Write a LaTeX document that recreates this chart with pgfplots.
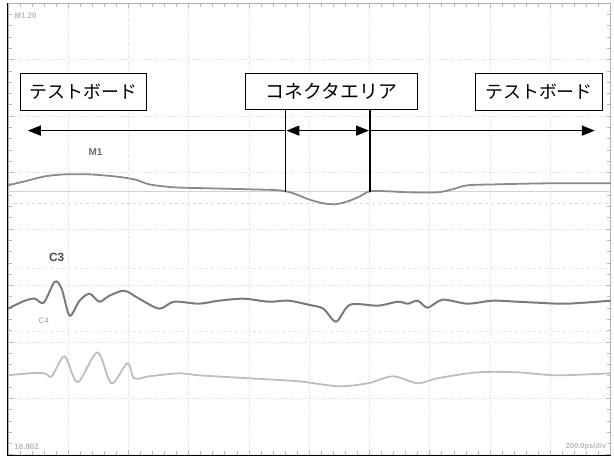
\documentclass[border=0pt]{standalone}
\usepackage{pgfplots}
\pgfplotsset{compat=1.18}
\usepackage{fontspec}
\setmainfont{Liberation Sans}
\newfontfamily\jp{Noto Sans CJK JP}
\usetikzlibrary{arrows.meta}

\definecolor{traceM}{HTML}{8A8A8A}
\definecolor{traceC}{HTML}{7A7A7A}
\definecolor{traceD}{HTML}{BDBDBD}

\begin{document}
\begin{tikzpicture}
\begin{axis}[
    scale only axis,
    width=606pt, height=454pt,
    xmin=8, xmax=614, ymin=3, ymax=457,
    y dir=reverse,
    clip=false,
    xtick={8,68.6,129.2,189.8,250.4,311,371.6,432.2,492.8,553.4,614},
    ytick={3,59.75,116.5,173.25,230,286.75,343.5,400.25,457},
    xticklabels={}, yticklabels={},
    minor x tick num=4, minor y tick num=4,
    tick align=inside,
    major tick length=5pt, minor tick length=4pt,
    tick style={gray!55, line width=0.9pt},
    grid=major,
    major grid style={gray!28, dotted, line width=0.9pt},
    axis line style={gray!60, line width=0.6pt},
]
% page margins
\path (axis cs:0,0) rectangle (axis cs:614,459);

% reference lines
\addplot[gray!35, line width=1pt] coordinates {(8,192) (614,192)};
\addplot[gray!28, dashed, line width=1pt] coordinates {(8,204) (614,204)};
\addplot[gray!20, dashed, line width=1pt] coordinates {(8,270) (614,270)};
\addplot[gray!20, dashed, line width=1pt] coordinates {(8,333) (614,333)};

% M1
\addplot[traceM, line width=1.8pt, smooth, tension=0.5] coordinates {
 (8,186) (25,182) (45,177) (65,175) (90,175) (115,177) (135,180) (150,185)
 (175,188) (210,189) (250,190) (280,191) (295,194) (310,200) (325,204)
 (337,205) (350,202) (362,197) (372,192) (390,192) (410,193) (440,193)
 (455,190) (470,186) (500,185) (550,184) (614,184)};

% C3
\addplot[traceC, line width=2pt, smooth, tension=0.5] coordinates {
 (8,310) (25,302) (35,300) (44,304) (55,283) (62,290) (70,317) (80,302)
 (90,295) (100,303) (110,297) (125,292) (140,300) (160,310) (175,303)
 (200,305) (220,302) (245,300) (270,303) (290,302) (310,306) (325,310)
 (338,323) (352,306) (380,307) (400,303) (410,305) (420,302) (430,309)
 (445,301) (470,305) (495,302) (520,303) (540,304) (570,305) (614,302)};

% C4
\addplot[traceD, line width=1.8pt, smooth, tension=0.5] coordinates {
 (8,377) (30,375) (45,375) (52,378) (65,358) (78,384) (98,354) (112,385)
 (128,365) (135,380) (150,378) (180,375) (200,377) (250,380) (300,383)
 (340,388) (370,385) (395,378) (420,385) (440,380) (480,374) (520,374)
 (560,377) (614,375)};

% frame
\draw[black, line width=1.6pt] (axis cs:7.5,3) -- (axis cs:7.5,457.5) -- (axis cs:614,457.5);

% channel labels
\node[font=\bfseries\fontsize{10}{12}\selectfont, text=gray!85!black] at (axis cs:96,153) {M1};
\node[font=\bfseries\fontsize{12}{14}\selectfont, text=black!70] at (axis cs:57,258) {C3};
\node[font=\bfseries\fontsize{8}{10}\selectfont, text=gray!55] at (axis cs:44,322) {C4};

% screen texts
\node[anchor=west, font=\bfseries\fontsize{8}{9}\selectfont, text=gray!55] at (axis cs:11,16) {M1 20};
\node[anchor=west, font=\bfseries\fontsize{8}{9}\selectfont, text=gray!55] at (axis cs:11,449) {16.802};
\node[anchor=east, font=\bfseries\fontsize{7.5}{9}\selectfont, text=gray!55] at (axis cs:613,449) {200.0ps/div};

% annotation
\draw[black, line width=1.6pt, {Triangle[length=13pt,width=10pt]}-] (axis cs:28,131) -- (axis cs:287,131);
\draw[black, line width=1.6pt, {Triangle[length=13pt,width=10pt]}-{Triangle[length=13pt,width=10pt]}] (axis cs:288,131) -- (axis cs:371,131);
\draw[black, line width=1.6pt, -{Triangle[length=13pt,width=10pt]}] (axis cs:372,131) -- (axis cs:598,131);
\draw[black, line width=1.6pt] (axis cs:287,110) -- (axis cs:287,193);
\draw[black, line width=1.6pt] (axis cs:372,110) -- (axis cs:372,193);

\node[draw=black, line width=0.8pt, fill=white, minimum width=126pt, minimum height=38pt, inner sep=0pt,
      font=\jp\fontsize{18}{20}\selectfont] at (axis cs:84,92) {テストボード};
\node[draw=black, line width=0.8pt, fill=white, minimum width=173pt, minimum height=37pt, inner sep=0pt,
      font=\jp\fontsize{19}{21}\selectfont] at (axis cs:333.5,91.5) {コネクタエリア};
\node[draw=black, line width=0.8pt, fill=white, minimum width=128pt, minimum height=38pt, inner sep=0pt,
      font=\jp\fontsize{18}{20}\selectfont] at (axis cs:542,92) {テストボード};
\end{axis}
\end{tikzpicture}
\end{document}
